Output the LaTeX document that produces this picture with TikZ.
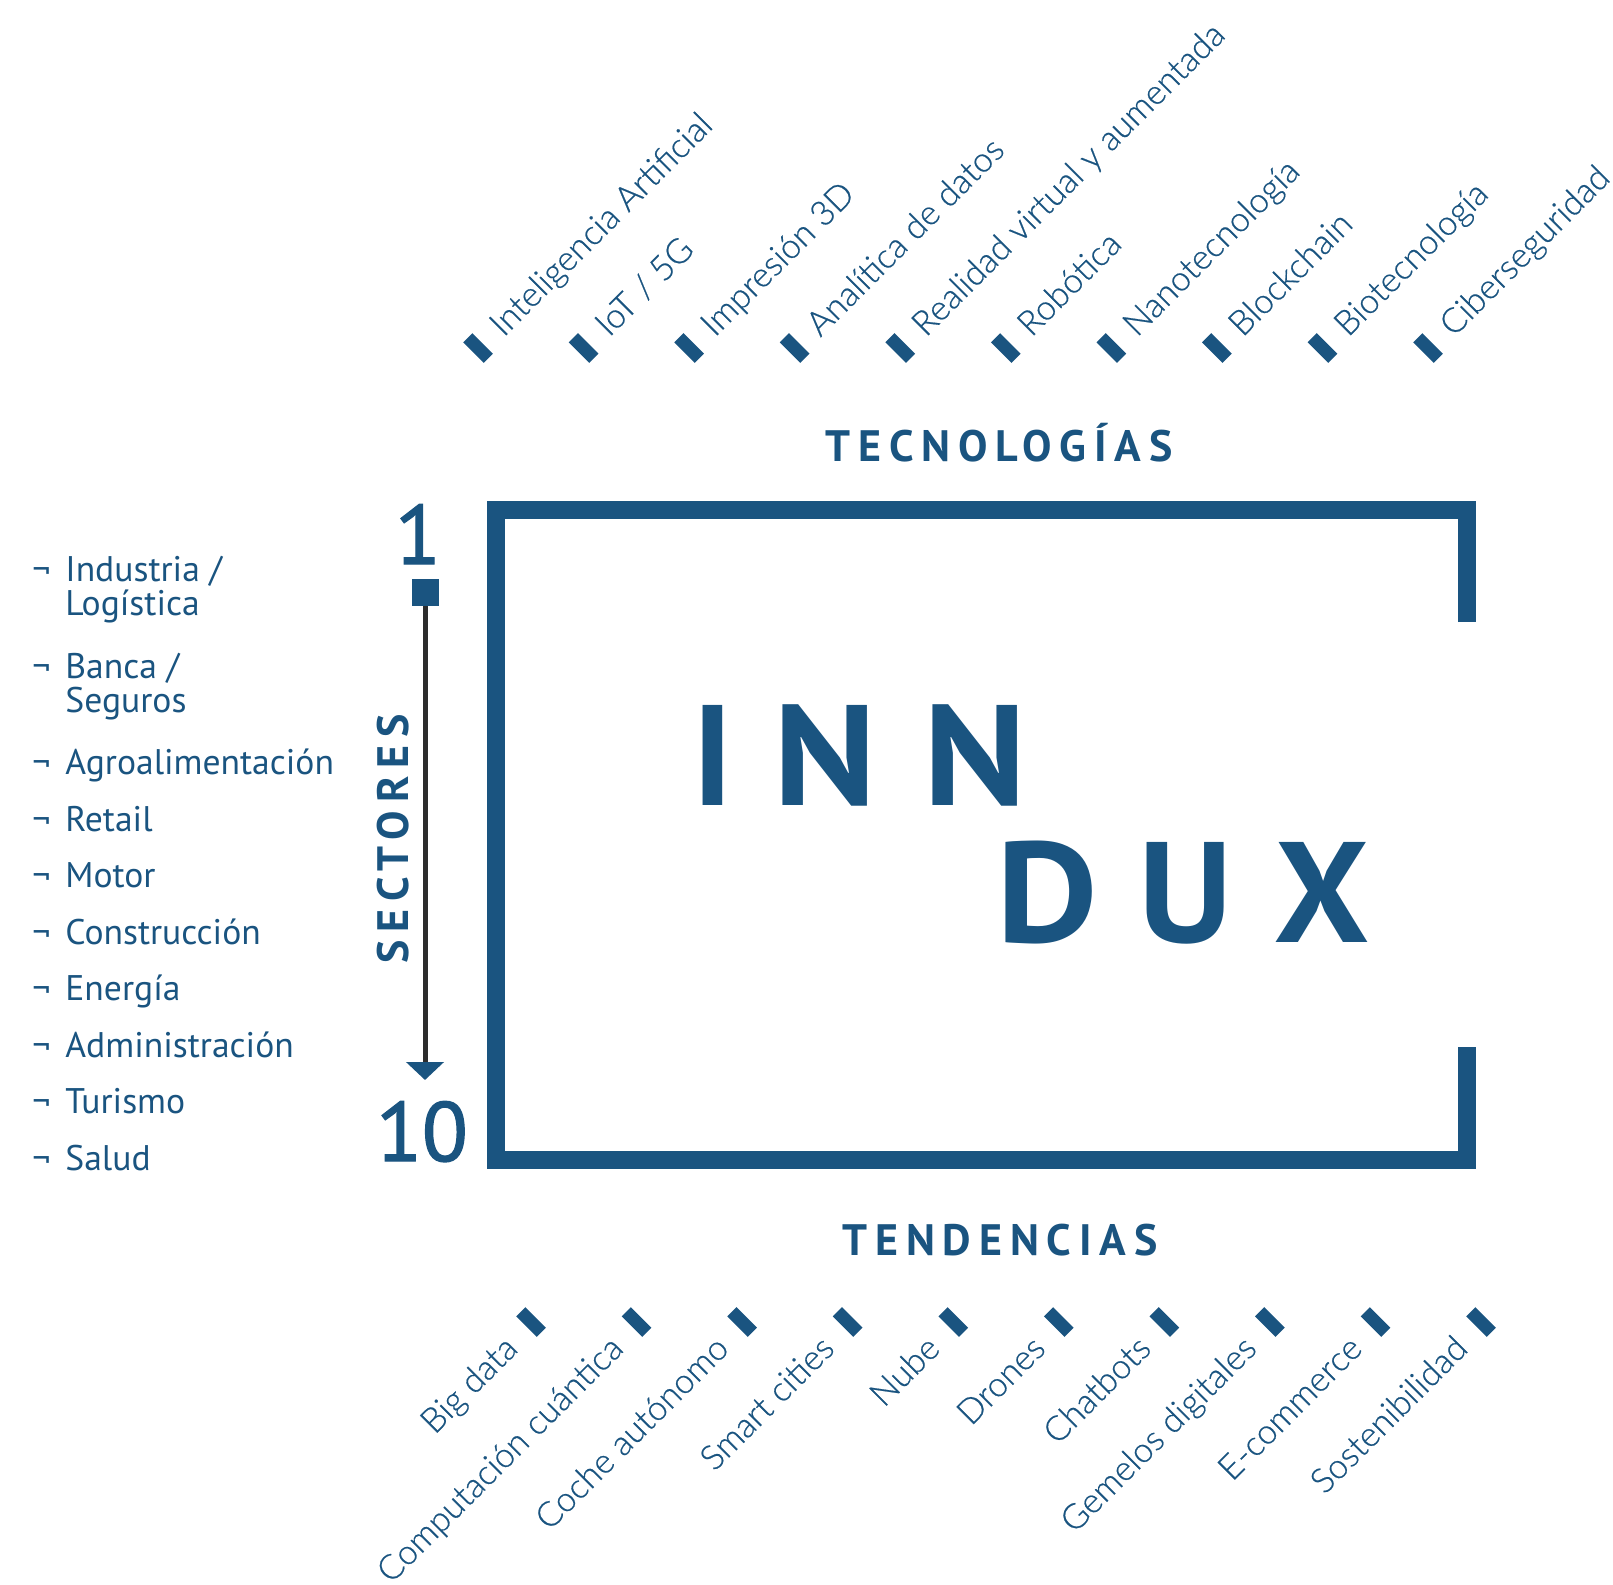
\documentclass[tikz,border=0pt]{standalone}
\usepackage{fontspec}
\usepackage{graphicx}
\setmainfont{PT Sans}
\newfontfamily\thinfont[FakeBold=0.5]{Lato Light}
\newfontfamily\headfont[LetterSpace=18]{PT Sans}
\newfontfamily\numfont[FakeBold=1.6]{PT Sans}
\usetikzlibrary{arrows.meta,calc}
\definecolor{ibl}{RGB}{26,84,128}
\definecolor{ign}{RGB}{45,45,45}
\begin{document}
\begin{tikzpicture}[x=0.5pt,y=-0.5pt,
  tick/.style={rotate=45,fill=ibl,inner sep=0pt,minimum width=6.5pt,minimum height=14.5pt},
  toplbl/.style={rotate=45,anchor=base west,inner sep=0pt,text=ibl,font=\thinfont\fontsize{17.2}{17.2}\selectfont},
  botlbl/.style={rotate=45,anchor=base east,inner sep=0pt,text=ibl,font=\thinfont\fontsize{17.2}{17.2}\selectfont},
  sect/.style={anchor=base west,inner sep=0pt,text=ibl,font=\fontsize{17.8}{17.8}\selectfont},
  head/.style={anchor=base,inner sep=0pt,text=ibl,font=\headfont\bfseries\fontsize{22}{22}\selectfont},
  num/.style={anchor=base,inner sep=0pt,text=ibl,font=\numfont\fontsize{42}{42}\selectfont},
  big/.style={anchor=base,inner sep=0pt,text=ibl,font=\bfseries\fontsize{71.5}{71.5}\selectfont},
]
\useasboundingbox (0,0) rectangle (1613,1585);

% frame
\draw[ibl,line width=9pt,line join=miter] (1467,622) -- (1467,510) -- (496,510) -- (496,1160) -- (1467,1160) -- (1467,1047);

% top technologies
\foreach \txt [count=\i from 0] in {Inteligencia Artificial,IoT / 5G,Impresión 3D,Analítica de datos,Realidad virtual y aumentada,Robótica,Nanotecnología,Blockchain,Biotecnología,Ciberseguridad}{
  \pgfmathsetmacro\mx{478+105.56*\i}
  \node[tick] (mt\i) at (\mx,348) {};
  \node[toplbl] (lt\i) at ($(mt\i.center)+(25.5,-9.9)$) {\txt};
}
% bottom trends
\foreach \txt [count=\i from 0] in {Big data,Computación cuántica,Coche autónomo,Smart cities,Nube,Drones,Chatbots,Gemelos digitales,E-commerce,Sostenibilidad}{
  \pgfmathsetmacro\mx{531+105.56*\i}
  \node[tick] (mb\i) at (\mx,1322) {};
  \node[botlbl] (lb\i) at ($(mb\i.center)+(-11.3,28.3)$) {\txt};
}

% headings
\node[head] (tec) at (999,461) {TECNOLOGÍAS};
\node[head] (ten) at (1000,1255) {TENDENCIAS};
\node[head,rotate=90] (sec) at (408,839) {SECTORES};

% numbers and scale
\node[num] (n1) at (418,564) {1};
\node[num] (n10) at (422,1161) {10};
\node[fill=ibl,minimum size=13.5pt,inner sep=0pt] (sq) at (425,592.5) {};
\coordinate (tip) at (425,1080);
\draw[ign,line width=2.5pt,-{Triangle[width=18.5pt,length=9pt,color=ibl]}] (sq.south) -- (tip);

% INNDUX
\node[big] (l1) at (712.5,805) {I};
\node[big] (l2) at (825.5,805) {\scalebox{1.1}[1]{N}};
\node[big] (l3) at (975.5,805) {\scalebox{1.1}[1]{N}};
\node[big] (l4) at (1047.5,942) {\scalebox{1.1}[1]{D}};
\node[big] (l5) at (1186,942) {\scalebox{1.05}[1]{U}};
\node[big] (l6) at (1322.5,942) {\scalebox{1.05}[1]{X}};

% sectors list
\foreach \y [count=\i] in {581.7,678,774,831,887,944,1000,1057,1113,1170}{
  \node[sect] (nt\i) at (32,\y) {¬};
}
\node[sect] (s1a) at (65,581.7) {Industria /};
\node[sect] (s1b) at (65,615) {Logística};
\node[sect] (s2a) at (65,678) {Banca /};
\node[sect] (s2b) at (65,712) {Seguros};
\node[sect] (s3) at (65,774) {Agroalimentación};
\node[sect] (s4) at (65,831) {Retail};
\node[sect] (s5) at (65,887) {Motor};
\node[sect] (s6) at (65,944) {Construcción};
\node[sect] (s7) at (65,1000) {Energía};
\node[sect] (s8) at (65,1057) {Administración};
\node[sect] (s9) at (65,1113) {Turismo};
\node[sect] (s10) at (65,1170) {Salud};
\end{tikzpicture}
\end{document}
